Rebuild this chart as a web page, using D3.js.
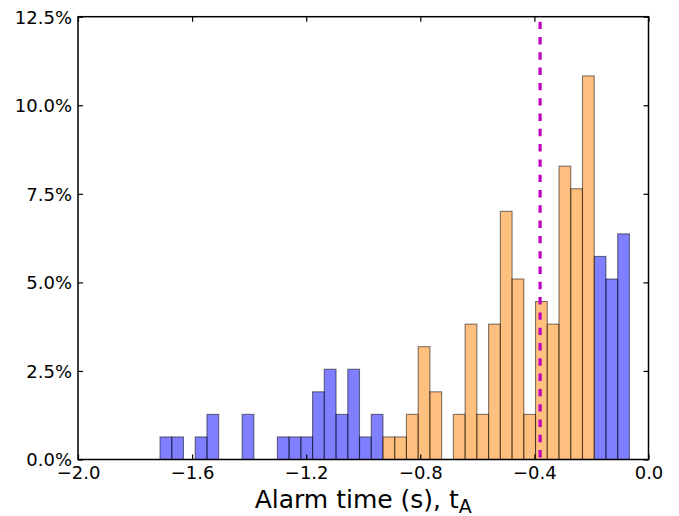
<!DOCTYPE html>
<html>
<head>
<meta charset="utf-8">
<script src="https://cdn.jsdelivr.net/npm/d3@7"></script>
<style>
  html, body { margin: 0; padding: 0; background: #fff; }
  svg { display: block; font-family: "DejaVu Sans", sans-serif; }
</style>
</head>
<body>
<svg id="chart" width="679" height="516"></svg>
<script>
// Histogram bins (seconds): 40 equal-width bins starting at binStart
const binStart = -1.7125;
const binWidth = 0.04114;

// Counts per bin for the two groups (total of all events = 157)
const blueCounts = [1, 1, 0, 1, 2, 0, 0, 2, 0, 0,
                    1, 1, 1, 3, 4, 2, 4, 1, 2, 0,
                    0, 0, 0, 0, 0, 0, 0, 0, 0, 0,
                    0, 0, 0, 0, 0, 0, 0, 9, 8, 10];
const orangeCounts = [0, 0, 0, 0, 0, 0, 0, 0, 0, 0,
                      0, 0, 0, 0, 0, 0, 0, 0, 0, 1,
                      1, 2, 5, 3, 0, 2, 6, 2, 6, 11,
                      8, 2, 7, 6, 13, 12, 17, 0, 0, 0];
const totalCount = 157;

// Reference threshold drawn as a dashed vertical line
const thresholdTime = -0.38;

// Axis ticks
const xTicks = [-2.0, -1.6, -1.2, -0.8, -0.4, 0.0];
const yTicks = [0, 2.5, 5.0, 7.5, 10.0, 12.5];

const svg = d3.select("#chart");
const plotL = 78, plotR = 648.5, plotT = 16.7, plotB = 459.5;

const x = d3.scaleLinear().domain([-2, 0]).range([plotL, plotR]);
const y = d3.scaleLinear().domain([0, 12.5]).range([plotB, plotT]);

function binsOf(counts) {
  return counts.map((c, i) => ({
    x0: binStart + i * binWidth,
    x1: binStart + (i + 1) * binWidth,
    pct: c / totalCount * 100
  })).filter(d => d.pct > 0);
}

function drawHist(counts, color) {
  svg.append("g")
    .selectAll("rect")
    .data(binsOf(counts))
    .join("rect")
    .attr("x", d => x(d.x0))
    .attr("width", d => x(d.x1) - x(d.x0))
    .attr("y", d => y(d.pct))
    .attr("height", d => y(0) - y(d.pct))
    .attr("fill", color)
    .attr("fill-opacity", 0.5)
    .attr("stroke", "#000")
    .attr("stroke-opacity", 0.5)
    .attr("stroke-width", 1.1);
}

drawHist(blueCounts, "#0000ff");
drawHist(orangeCounts, "#ff8000");

// Dashed threshold line
svg.append("line")
  .attr("x1", x(thresholdTime)).attr("x2", x(thresholdTime))
  .attr("y1", plotT).attr("y2", plotB)
  .attr("stroke", "#bf00bf")
  .attr("stroke-width", 3.2)
  .attr("stroke-dasharray", "7.4 7.9")
  .attr("stroke-dashoffset", 10.3);

// Frame
svg.append("rect")
  .attr("x", plotL).attr("y", plotT)
  .attr("width", plotR - plotL).attr("height", plotB - plotT)
  .attr("fill", "none")
  .attr("stroke", "#000")
  .attr("stroke-width", 1.5);

const tickLen = 5;
const tickFmtX = d => d3.format(".1f")(d).replace("-", "\u2212");
const tickFmtY = d => d3.format(".1f")(d) + "%";

// Ticks point inward on all four sides
const xAxisBottom = d3.axisBottom(x).tickValues(xTicks).tickSizeInner(-tickLen).tickSizeOuter(0)
  .tickPadding(7).tickFormat(tickFmtX);
const gxb = svg.append("g").attr("transform", `translate(0,${plotB})`).call(xAxisBottom);
const xAxisTop = d3.axisTop(x).tickValues(xTicks).tickSizeInner(-tickLen).tickSizeOuter(0).tickFormat("");
const gxt = svg.append("g").attr("transform", `translate(0,${plotT})`).call(xAxisTop);

const yAxisLeft = d3.axisLeft(y).tickValues(yTicks).tickSizeInner(-tickLen).tickSizeOuter(0)
  .tickPadding(6).tickFormat(tickFmtY);
const gyl = svg.append("g").attr("transform", `translate(${plotL},0)`).call(yAxisLeft);
const yAxisRight = d3.axisRight(y).tickValues(yTicks).tickSizeInner(-tickLen).tickSizeOuter(0).tickFormat("");
const gyr = svg.append("g").attr("transform", `translate(${plotR},0)`).call(yAxisRight);

[gxb, gxt, gyl, gyr].forEach(g => {
  g.select(".domain").remove();
  g.selectAll(".tick line").attr("stroke", "#000").attr("stroke-width", 1.2);
  g.selectAll(".tick text")
    .attr("fill", "#000")
    .style("font-family", "'DejaVu Sans', sans-serif")
    .style("font-size", "18px");
});
gyl.selectAll(".tick text").attr("dy", "0.36em");

// Axis label with subscript
const label = svg.append("text")
  .attr("x", (plotL + plotR) / 2)
  .attr("y", 508)
  .attr("text-anchor", "middle")
  .style("font-size", "25px")
  .attr("fill", "#000");
label.append("tspan").text("Alarm time (s), t");
label.append("tspan").attr("dy", 5).style("font-size", "19px").text("A");
</script>
</body>
</html>
